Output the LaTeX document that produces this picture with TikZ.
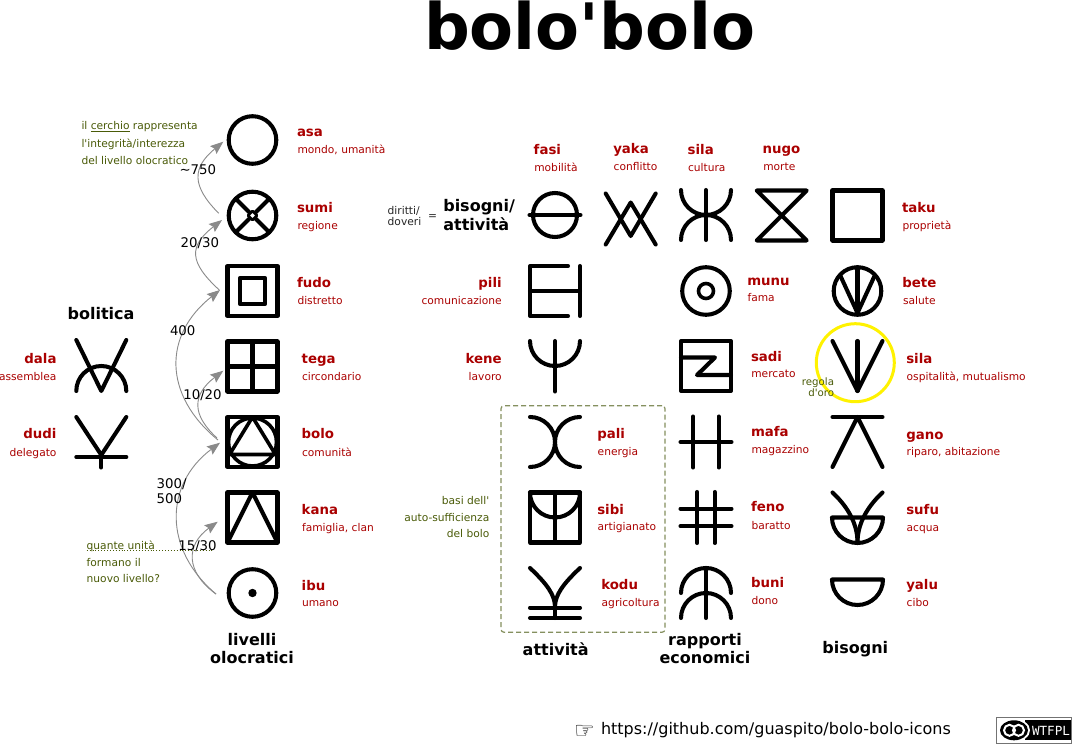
\documentclass[tikz,border=0pt]{standalone}
\usepackage{fontspec}
\setmainfont{DejaVu Sans}[Ligatures=TeXOff]
\newfontfamily\badgefont{DejaVu Sans Mono}
\usetikzlibrary{arrows.meta,shapes.geometric}
\definecolor{brick}{HTML}{AA0000}
\definecolor{oliva}{HTML}{4A5B08}
\definecolor{frameoliva}{HTML}{85905F}
\definecolor{arrowgray}{HTML}{8A8A8A}
\newcommand{\fs}[1]{\fontsize{#1}{#1}\selectfont}
\tikzset{
  x=1pt,y=1pt,
  txt/.style={inner sep=0pt,outer sep=0pt},
  nm/.style={txt,text=brick,font=\fs{13.33}\bfseries,anchor=base west},
  nmr/.style={nm,anchor=base east},
  sb/.style={txt,text=brick,font=\fs{10.67},anchor=base west},
  sbr/.style={sb,anchor=base east},
  head/.style={txt,font=\fs{16}\bfseries,anchor=base,align=center},
  note/.style={txt,text=oliva,font=\fs{10.67},anchor=base west},
  noter/.style={note,anchor=base east},
  num/.style={txt,font=\fs{13.33},anchor=base west},
  iconbox/.style={minimum size=54pt,inner sep=0pt,outer sep=0pt},
  sym/.style={draw=black,line width=4.05pt,line cap=round,line join=round},
  conn/.style={draw=arrowgray,line width=.9pt,-{Stealth[length=13pt,width=10pt,inset=2pt]}},
  pics/asaicon/.style={code={\draw[sym] (0,0) circle[radius=23.8pt];}},
  pics/sumiicon/.style={code={\draw[sym] (0,0) circle[radius=23.8pt];
    \draw[sym] (-16.8,16.8)--(16.8,-16.8) (-16.8,-16.8)--(16.8,16.8);
    \draw[sym,line width=2.6pt,fill=white] (-4.5,0)--(0,4.5)--(4.5,0)--(0,-4.5)--cycle;}},
  pics/fudoicon/.style={code={\draw[sym] (-25,-25) rectangle (25,25);
    \draw[sym] (-12.7,-12.7) rectangle (12.7,12.7);}},
  pics/tegaicon/.style={code={\draw[sym] (-25,-25) rectangle (25,25);
    \draw[sym] (0,-25)--(0,25) (-25,0)--(25,0);}},
  pics/boloicon/.style={code={\draw[sym] (-25,-25) rectangle (25,25);
    \draw[sym,line width=3.6pt] (0,0) circle[radius=24pt];
    \draw[sym,line width=3.6pt] (0,25)--(-23,-12.5)--(23,-12.5)--cycle;}},
  pics/kanaicon/.style={code={\draw[sym] (-25,-25) rectangle (25,25);
    \draw[sym] (-25,-25)--(0,25)--(25,-25);}},
  pics/ibuicon/.style={code={\draw[sym] (0,0) circle[radius=23.8pt];
    \fill (0,0) circle[radius=4.2pt];}},
  pics/dalaicon/.style={code={\draw[sym] (-25,26)--(0,-25)--(25,26);
    \draw[sym] (-25,-25) arc[start angle=180,end angle=0,radius=25pt];}},
  pics/dudiicon/.style={code={\draw[sym] (-25,25)--(0,-13)--(25,25);
    \draw[sym] (-25,-15)--(25,-15) (0,-13)--(0,-25.5);}},
  pics/fasiicon/.style={code={\draw[sym] (0,0) circle[radius=22pt];
    \draw[sym] (-25.5,0)--(25.5,0);}},
  pics/yakaicon/.style={code={\draw[sym] (-25,25.5)--(0,-17)--(25,25.5);
    \draw[sym] (-25,-25.5)--(0,16.5)--(25,-25.5);}},
  pics/silaicon/.style={code={\draw[sym] (0,-25)--(0,25);
    \draw[sym] (-25,25) arc[start angle=180,end angle=270,radius=25pt];
    \draw[sym] (25,25) arc[start angle=0,end angle=-90,radius=25pt];
    \draw[sym] (-25,-25) arc[start angle=180,end angle=90,radius=25pt];
    \draw[sym] (25,-25) arc[start angle=0,end angle=90,radius=25pt];}},
  pics/nugoicon/.style={code={\draw[sym] (-25,25)--(25,25)--(-25,-25)--(25,-25)--cycle;}},
  pics/takuicon/.style={code={\draw[sym] (-25,-25) rectangle (25,25);}},
  pics/piliicon/.style={code={\draw[sym] (13,25)--(-25,25)--(-25,-25)--(13,-25);
    \draw[sym] (-25,0)--(25,0) (25,25)--(25,-25);}},
  pics/munuicon/.style={code={\draw[sym] (0,0) circle[radius=23.8pt];
    \draw[sym,line width=3.6pt] (0,0) circle[radius=7.5pt];}},
  pics/beteicon/.style={code={\draw[sym] (0,0) circle[radius=23.8pt];
    \draw[sym] (0,23.8)--(0,-22);
    \draw[sym] (-17,15)--(0,-22)--(17,15);}},
  pics/keneicon/.style={code={\draw[sym] (0,25)--(0,-25.5);
    \draw[sym] (-25,25) arc[start angle=180,end angle=360,radius=25pt];}},
  pics/sadiicon/.style={code={\draw[sym] (-25,-25) rectangle (25,25);
    \draw[sym] (-25,8.5)--(9,8.5)--(-9,-9)--(25,-9);}},
  pics/silabicon/.style={code={\draw[sym] (0,25)--(0,-25);
    \draw[sym] (-25,25)--(0,-25)--(25,25);}},
  pics/ganoicon/.style={code={\draw[sym] (-25,25)--(25,25);
    \draw[sym] (-25,-25)--(0,25)--(25,-25);}},
  pics/paliicon/.style={code={\draw[sym] (-25,25) arc[start angle=90,end angle=-90,radius=25pt];
    \draw[sym] (25,25) arc[start angle=90,end angle=270,radius=25pt];}},
  pics/sibiicon/.style={code={\draw[sym] (-25,-25) rectangle (25,25);
    \draw[sym] (0,25)--(0,-25);
    \draw[sym] (-25,25) arc[start angle=180,end angle=360,radius=25pt];}},
  pics/koduicon/.style={code={\draw[sym] (-25,-14.7)--(25,-14.7) (-25,-25)--(25,-25) (0,-14)--(0,-25);
    \draw[sym] (-25,25) .. controls (-8,9) and (0,-2) .. (0,-14);
    \draw[sym] (25,25) .. controls (8,9) and (0,-2) .. (0,-14);}},
  pics/mafaicon/.style={code={\draw[sym] (-12.7,25.5)--(-12.7,-25.5) (12.7,25.5)--(12.7,-25.5) (-25.5,0)--(25.5,0);}},
  pics/fenoicon/.style={code={\draw[sym] (-8.7,25.5)--(-8.7,-25.5) (8.7,25.5)--(8.7,-25.5) (-25.5,8.8)--(25.5,8.8) (-25.5,-8.8)--(25.5,-8.8);}},
  pics/buniicon/.style={code={\draw[sym] (0,25)--(0,-25);
    \draw[sym] (-25,0) arc[start angle=180,end angle=0,radius=25pt];
    \draw[sym] (-25,-25) arc[start angle=180,end angle=0,radius=25pt];}},
  pics/sufuicon/.style={code={\draw[sym] (-25.5,0)--(25.5,0) arc[start angle=0,end angle=-180,radius=25.5pt];
    \draw[sym] (-25,25) .. controls (-11,12) and (0,-5) .. (0,-25);
    \draw[sym] (25,25) .. controls (11,12) and (0,-5) .. (0,-25);}},
  pics/yaluicon/.style={code={\draw[sym] (-25.5,13.5)--(25.5,13.5) arc[start angle=0,end angle=-180,radius=25.5pt];}},
}
\begin{document}
\begin{tikzpicture}
\useasboundingbox (0,0) rectangle (1072,-744);
\fill[white] (0,0) rectangle (1072,-744);
% title
\node[txt,anchor=base,font=\fs{64}\bfseries] (title) at (589.5,-49) {bolo'bolo};
% icon holders
\foreach \nm/\cx/\cy in {asa/252.5/140,sumi/252.5/215.5,fudo/252.5/291,tega/252.5/366.5,bolo/252.5/442,kana/252.5/517.5,ibu/252.5/593,
  dala/101.3/366,dudi/101.3/442,
  fasi/555/215,yaka/630.7/219,sila/706/215,nugo/781.7/215.5,taku/857.5/215.5,
  pili/555/291,munu/706/291,bete/857.5/291,
  kene/555/366,sadi/706/366,silab/857.5/366,
  pali/555/442,mafa/706/442,gano/857.5/442,
  sibi/555/517.5,feno/706/517.5,sufu/857.5/517.5,
  kodu/555/593,buni/706/593,yalu/857.5/593}{
  \node[iconbox] (\nm) at (\cx,-\cy) {};
  \pic at (\nm) {\nm icon};
}
% golden rule ring
\node[draw=yellow,line width=3pt,circle,minimum size=78pt,inner sep=0pt] (ring) at (855.3,-362.7) {};
% dashed frame
\node[draw=frameoliva,line width=1.2pt,dash pattern=on 5pt off 3pt,rounded corners=3pt,minimum width=164pt,minimum height=226.6pt,inner sep=0pt] (frame) at (583,-519) {};
% arrows
\draw[conn] ([shift={(-6.8,2.2)}]sumi.west) .. controls (191.7,-186) and (191.7,-168) .. ([shift={(-2.2,-1.7)}]asa.west);
\draw[conn] ([shift={(-6.2,1)}]fudo.west) .. controls (188.7,-262) and (188.7,-246) .. ([shift={(-3.5,-4.5)}]sumi.west);
\draw[conn] ([shift={(-7.5,2)}]bolo.west) .. controls (163,-395) and (163,-335) .. ([shift={(-5.5,1)}]fudo.west);
\draw[conn] ([shift={(-8.5,4)}]bolo.west) .. controls (191.8,-415) and (191.8,-395) .. ([shift={(-2.2,-4.2)}]tega.west);
\draw[conn] ([shift={(-9.5,-1)}]ibu.west) .. controls (163.7,-550) and (163.7,-485) .. ([shift={(-5.5,-.7)}]bolo.west);
\draw[conn] ([shift={(-9.5,-1)}]ibu.west) .. controls (185.5,-572) and (185.5,-545) .. ([shift={(-7.8,-4.2)}]kana.west);
% column heads (multi-line nodes are placed by their last baseline)
\node[head] (hbol) at (101,-319.3) {bolitica};
\node[head] (hliv) at (252,-663.3) {livelli\\[1.6pt]olocratici};
\node[head] (hatt) at (555.7,-655) {attività};
\node[head] (hrap) at (705,-663.3) {rapporti\\[1.6pt]economici};
\node[head] (hbis) at (855.3,-653.3) {bisogni};
\node[head,anchor=base west,align=left] (hbisatt) at (443.3,-230) {bisogni/\\[1.6pt]attività};
\node[txt,anchor=base west,align=left,font=\fs{10.67},text=black!85] (dir) at (387.7,-225) {diritti/\\[0.3pt]doveri};
\node[txt,anchor=base west,font=\fs{10.67},text=black!85] (eq) at (428,-219) {=};
% labels: levels
\node[nm] (lasa) at (297,-136.5) {asa};        \node[sb] (sasa) at (297.5,-153.3) {mondo, umanità};
\node[nm] (lsumi) at (297,-212.2) {sumi};      \node[sb] (ssumi) at (297.5,-229) {regione};
\node[nm] (lfudo) at (297,-287.7) {fudo};      \node[sb] (sfudo) at (297.5,-304.3) {distretto};
\node[nm] (ltega) at (301.7,-363.3) {tega};    \node[sb] (stega) at (302,-380) {circondario};
\node[nm] (lbolo) at (301.7,-438.3) {bolo};    \node[sb] (sbolo) at (302,-456) {comunità};
\node[nm] (lkana) at (301.7,-514.3) {kana};    \node[sb] (skana) at (302,-531) {famiglia, clan};
\node[nm] (libu) at (301.7,-590) {ibu};        \node[sb] (sibu) at (302,-606.7) {umano};
% labels: bolitica
\node[nmr] (ldala) at (56.5,-363.3) {dala};    \node[sbr] (sdala) at (56.5,-380) {assemblea};
\node[nmr] (ldudi) at (56.5,-438.3) {dudi};    \node[sbr] (sdudi) at (56.5,-456) {delegato};
% labels: needs row
\node[nm] (lfasi) at (533.7,-154.3) {fasi};    \node[sb] (sfasi) at (534.3,-171) {mobilità};
\node[nm] (lyaka) at (613.3,-153.3) {yaka};    \node[sb] (syaka) at (613.7,-170) {conflitto};
\node[nm] (lsila) at (687.7,-154.3) {sila};    \node[sb] (ssila) at (688,-171) {cultura};
\node[nm] (lnugo) at (762.7,-153.3) {nugo};    \node[sb] (snugo) at (763.3,-170) {morte};
\node[nm] (ltaku) at (902,-212) {taku};        \node[sb] (staku) at (902.5,-229) {proprietà};
\node[nmr] (lpili) at (501.7,-287.7) {pili};   \node[sbr] (spili) at (501.7,-304.3) {comunicazione};
\node[nmr] (lkene) at (501.7,-363.3) {kene};   \node[sbr] (skene) at (501.7,-380) {lavoro};
\node[nm] (lmunu) at (747.3,-285) {munu};      \node[sb] (smunu) at (747.5,-301.7) {fama};
\node[nm] (lbete) at (902.3,-287.3) {bete};    \node[sb] (sbete) at (903,-304.5) {salute};
\node[nm] (lsadi) at (751,-361) {sadi};        \node[sb] (ssadi) at (751.3,-377.7) {mercato};
\node[nm] (lsilab) at (906.3,-363) {sila};     \node[sb] (ssilab) at (906.7,-380) {ospitalità, mutualismo};
\node[nm] (lpali) at (597.3,-438.3) {pali};    \node[sb] (spali) at (597.7,-455) {energia};
\node[nm] (lsibi) at (597.3,-514) {sibi};      \node[sb] (ssibi) at (597.7,-530.7) {artigianato};
\node[nm] (lkodu) at (601.3,-589.3) {kodu};    \node[sb] (skodu) at (601.7,-606) {agricoltura};
\node[nm] (lmafa) at (751,-436) {mafa};        \node[sb] (smafa) at (751.5,-453.3) {magazzino};
\node[nm] (lfeno) at (751,-511.7) {feno};      \node[sb] (sfeno) at (751.5,-529) {baratto};
\node[nm] (lbuni) at (751,-587.3) {buni};      \node[sb] (sbuni) at (751.5,-604) {dono};
\node[nm] (lgano) at (906.3,-439) {gano};      \node[sb] (sgano) at (906.7,-455.7) {riparo, abitazione};
\node[nm] (lsufu) at (906.3,-514.3) {sufu};    \node[sb] (ssufu) at (906.7,-531) {acqua};
\node[nm] (lyalu) at (906.3,-589.3) {yalu};    \node[sb] (syalu) at (906.7,-606.7) {cibo};
% notes
\node[note,anchor=base west,align=left] (ncerchio) at (81.5,-164.3) {il \underline{cerchio} rappresenta\\[6pt]l'integrità/interezza\\[6pt]del livello olocratico};
\node[note,anchor=base west,align=left] (nquante) at (86.7,-582.7) {quante unità\\[6pt]formano il\\[6pt]nuovo livello?};
\node[noter,align=right] (nbasi) at (489.3,-537.7) {basi dell'\\[6pt]auto-sufficienza\\[6pt]del bolo};
\node[noter,align=right,font=\fs{10.2}] (nregola) at (834,-396) {regola\\[0.8pt]d'oro};
\coordinate (dota) at (86.7,-550.8);
\coordinate (dotb) at (214,-550.8);
\draw[oliva,line width=.9pt,dotted] (dota) -- (dotb);
% numbers
\node[num] (n750) at (179.5,-174) {\char"7E 750};
\node[num] (n2030) at (180.7,-247.7) {20/30};
\node[num] (n400) at (170,-335.7) {400};
\node[num] (n1020) at (183.3,-399) {10/20};
\node[num,align=left] (n300) at (156.7,-503.3) {300/\\[1.67pt]500};
\node[num] (n1530) at (178.3,-550.7) {15/30};
% footer
\node[txt,anchor=base west,font=\fs{23}] (hand) at (574,-738) {☞};
\node[txt,anchor=base west,font=\fs{16}] (url) at (601,-734.3) {https://github.com/guaspito/bolo-bolo-icons};
% badge
\node[draw=black!55,line width=.8pt,fill=white,minimum width=75pt,minimum height=26pt,inner sep=0pt] (badge) at (1034,-730) {};
\node[fill=black,minimum width=46pt,minimum height=20pt,inner sep=0pt] (badgebar) at (1047.5,-730.3) {};
\node[fill=white,ellipse,minimum width=32pt,minimum height=23pt,inner sep=0pt] (bw) at (1014,-730.3) {};
\node[fill=black,ellipse,minimum width=28pt,minimum height=20pt,inner sep=0pt] (bb) at (1014,-730.3) {};
\node[draw=white,line width=2pt,circle,minimum size=11pt,inner sep=0pt] (bl) at (1009.5,-730.3) {};
\node[draw=white,line width=2pt,circle,minimum size=11pt,inner sep=0pt] (br) at (1018.5,-730.3) {};
\node[txt,anchor=base west,text=white,font=\badgefont\fs{12.6}] (wtf) at (1032,-735) {WTFPL};
\end{tikzpicture}
\end{document}
